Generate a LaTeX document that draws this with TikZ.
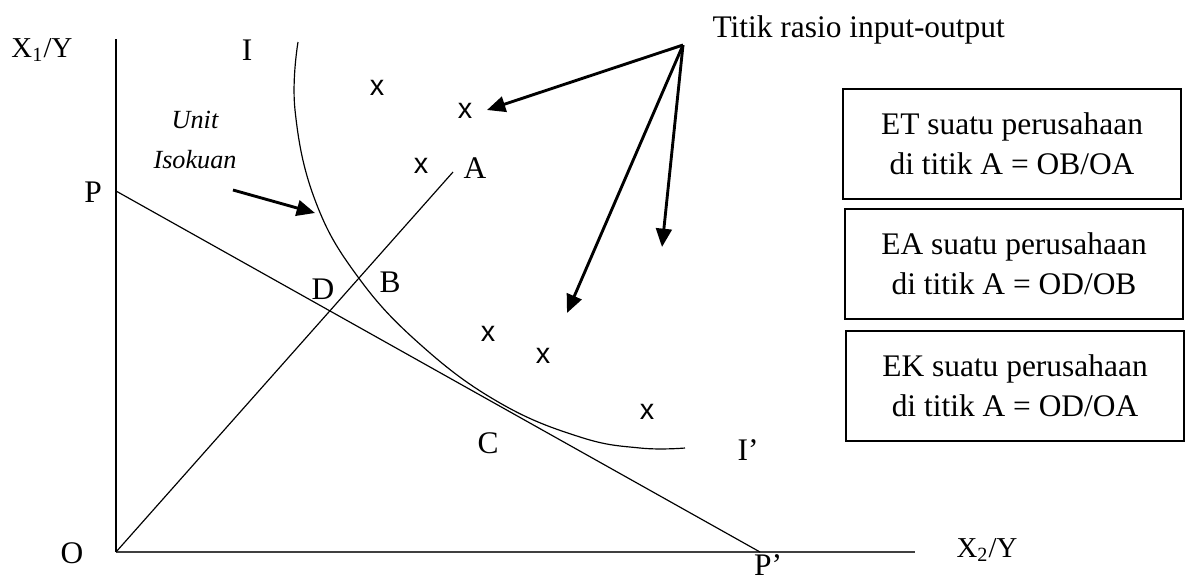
\documentclass[tikz,border=0pt]{standalone}
\usepackage{fontspec}
\setmainfont{Liberation Serif}
\newfontfamily\xmarkfont{Liberation Sans}
\usetikzlibrary{arrows.meta}

\begin{document}
\begin{tikzpicture}[x=0.3817pt, y=-0.3817pt,
  lbl/.style={inner sep=0pt, font=\fontsize{12}{15}\selectfont},
  xmark/.style={inner sep=0pt, font=\xmarkfont\fontsize{11}{13}\selectfont},
  infobox/.style={draw, line width=0.6pt, align=center, minimum width=129pt, minimum height=42pt, inner sep=2pt, font=\fontsize{12}{15.3}\selectfont},
  thinline/.style={line width=0.45pt},
  pointer/.style={line width=1.1pt, -{Triangle[length=7pt,width=6pt]}}]
\useasboundingbox (0,0) rectangle (1185,580);
\coordinate (O) at (116,552);
\coordinate (ytop) at (116,39);
\coordinate (xend) at (915,552);
\coordinate (P) at (116,191);
\coordinate (Pp) at (760,552);
\coordinate (A) at (453,172);
\coordinate (src) at (683,45);
\coordinate (t1) at (487,110);
\coordinate (t2) at (567,313);
\coordinate (t3) at (662,247);
\coordinate (uStart) at (233,190);
\coordinate (uEnd) at (315,213);
\node[lbl, font=\fontsize{11}{13}\selectfont] (lX1) at (42,50) {X\textsubscript{1}/Y};
\node[lbl] (lI) at (247,50) {I};
\node[lbl, align=center, font=\fontsize{10}{15}\selectfont\itshape] (lUnit) at (195,140) {Unit\\Isokuan};
\node[lbl] (lP) at (93,192) {P};
\node[lbl] (lD) at (323,289) {D};
\node[lbl] (lB) at (390,282) {B};
\node[lbl] (lA) at (475,168) {A};
\node[lbl] (lC) at (488,443) {C};
\node[lbl] (lIp) at (748,450) {I’};
\node[lbl] (lPp) at (768,565) {P’};
\node[lbl] (lO) at (72,553) {O};
\node[lbl, font=\fontsize{11}{13}\selectfont] (lX2) at (987,550) {X\textsubscript{2}/Y};
\node[lbl, anchor=base west] (lTitik) at (712,37) {Titik rasio input-output};
\node[xmark] (x1) at (377,88) {x};
\node[xmark] (x2) at (465,111) {x};
\node[xmark] (x3) at (421,166) {x};
\node[xmark] (x4) at (488,334) {x};
\node[xmark] (x5) at (543,356) {x};
\node[xmark] (x6) at (647,412) {x};
\node[infobox] (boxET) at (1012,144) {ET suatu perusahaan\\di titik A = OB/OA};
\node[infobox] (boxEA) at (1014,264) {EA suatu perusahaan\\di titik A = OD/OB};
\node[infobox] (boxEK) at (1015,386) {EK suatu perusahaan\\di titik A = OD/OA};
\draw[thinline] (ytop) -- (O);
\draw[line width=0.6pt, black!75] (O) -- (xend);
\draw[thinline] (P) -- (Pp);
\draw[thinline] (O) -- (A);
\draw[thinline] plot[smooth, tension=0.7] coordinates {(298,42) (295,110) (315,200) (358,277) (422,346) (500,403) (580,437) (640,448) (685,448)};
\draw[pointer] (src) -- (t1);
\draw[pointer] (src) -- (t2);
\draw[pointer] (src) -- (t3);
\draw[pointer] (uStart) -- (uEnd);
\end{tikzpicture}
\end{document}
